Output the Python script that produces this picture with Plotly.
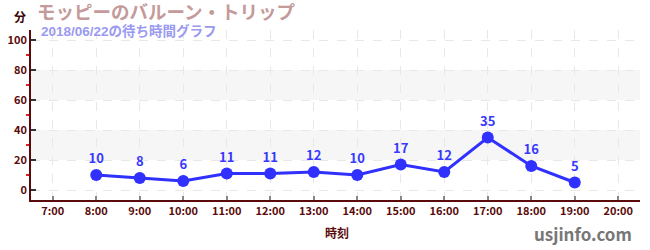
import plotly.graph_objects as go

hours = [8, 9, 10, 11, 12, 13, 14, 15, 16, 17, 18, 19]
waits = [10, 8, 6, 11, 11, 12, 10, 17, 12, 35, 16, 5]
tick_vals = list(range(7, 21))
tick_text = [f"{h}:00" for h in tick_vals]
y_ticks = [0, 20, 40, 60, 80, 100]
bands = [(20, 40), (60, 80)]
title_text = "モッピーのバルーン・トリップ"
subtitle_text = "2018/06/22の待ち時間グラフ"

FONT = "Noto Sans CJK JP"
TFONT = "Liberation Sans, Noto Sans CJK JP"
AX = "#5a0a0a"

fig = go.Figure()
fig.add_trace(go.Scatter(
    x=hours, y=waits, mode="lines+markers+text",
    text=[str(v) for v in waits], textposition="top center",
    textfont=dict(family=FONT, size=13, color="#3838ff", weight="bold"),
    line=dict(color="#3030ff", width=3),
    marker=dict(size=12, color="#3030ff"),
    cliponaxis=False, hoverinfo="skip",
))

for lo, hi in bands:
    fig.add_shape(type="rect", xref="paper", x0=0, x1=1, yref="y", y0=lo, y1=hi,
                  fillcolor="#f6f6f6", line_width=0, layer="below")

fig.update_layout(
    width=650, height=250,
    margin=dict(l=31, r=10, t=30, b=50),
    paper_bgcolor="white", plot_bgcolor="white",
    showlegend=False,
    font=dict(family=FONT, color=AX),
    xaxis=dict(
        range=[6.5, 20.5], tickmode="array", tickvals=tick_vals, ticktext=tick_text,
        tickfont=dict(size=11, color=AX, weight="bold"),
        showline=True, linecolor=AX, linewidth=1.5,
        ticks="inside", ticklen=4, tickcolor="#888", tickwidth=2,
        showgrid=True, gridcolor="#e8e8e8", griddash="dash", gridwidth=1,
        zeroline=False, fixedrange=True, automargin=False,
    ),
    yaxis=dict(
        range=[-6.67, 106.67], tickmode="array", tickvals=y_ticks,
        tickfont=dict(size=11, color=AX, weight="bold"),
        showline=True, linecolor=AX, linewidth=1.5,
        ticks="inside", ticklen=5, tickcolor="#333", tickwidth=1.5,
        minor=dict(tickvals=[10, 30, 50, 70, 90], ticks="outside", ticklen=3,
                   tickcolor="#e02020", tickwidth=1.5, showgrid=False),
        showgrid=True, gridcolor="#e8e8e8", griddash="dash", gridwidth=1,
        zeroline=False, fixedrange=True, automargin=False,
    ),
    annotations=[
        dict(text=title_text, xref="paper", yref="paper",
             x=(35 - 31) / 609, y=1 + (30 - 12.5) / 170, xanchor="left", yanchor="middle",
             showarrow=False, font=dict(family=TFONT, size=18.5, color="#c49a9a", weight="bold")),
        dict(text=subtitle_text, xref="paper", yref="paper",
             x=(39 - 31) / 609, y=1 + (30 - 30.5) / 170, xanchor="left", yanchor="middle",
             showarrow=False, font=dict(family=TFONT, size=13.5, color="#9a9af0", weight="bold")),
        dict(text="分", xref="paper", yref="paper",
             x=(20 - 31) / 609, y=1 + (30 - 16) / 170, xanchor="center", yanchor="middle",
             showarrow=False, font=dict(family=FONT, size=12, color="#3a0505", weight="bold")),
        dict(text="時刻", xref="paper", yref="paper",
             x=(337 - 31) / 609, y=-(232 - 200) / 170, xanchor="center", yanchor="middle",
             showarrow=False, font=dict(family=FONT, size=12, color=AX, weight="bold")),
        dict(text="usjinfo.com", xref="paper", yref="paper",
             x=(634 - 31) / 609, y=-(233 - 200) / 170, xanchor="right", yanchor="middle",
             showarrow=False, font=dict(family=FONT, size=17, color="#777777", weight="bold")),
    ],
)

fig.write_html("out.html")
